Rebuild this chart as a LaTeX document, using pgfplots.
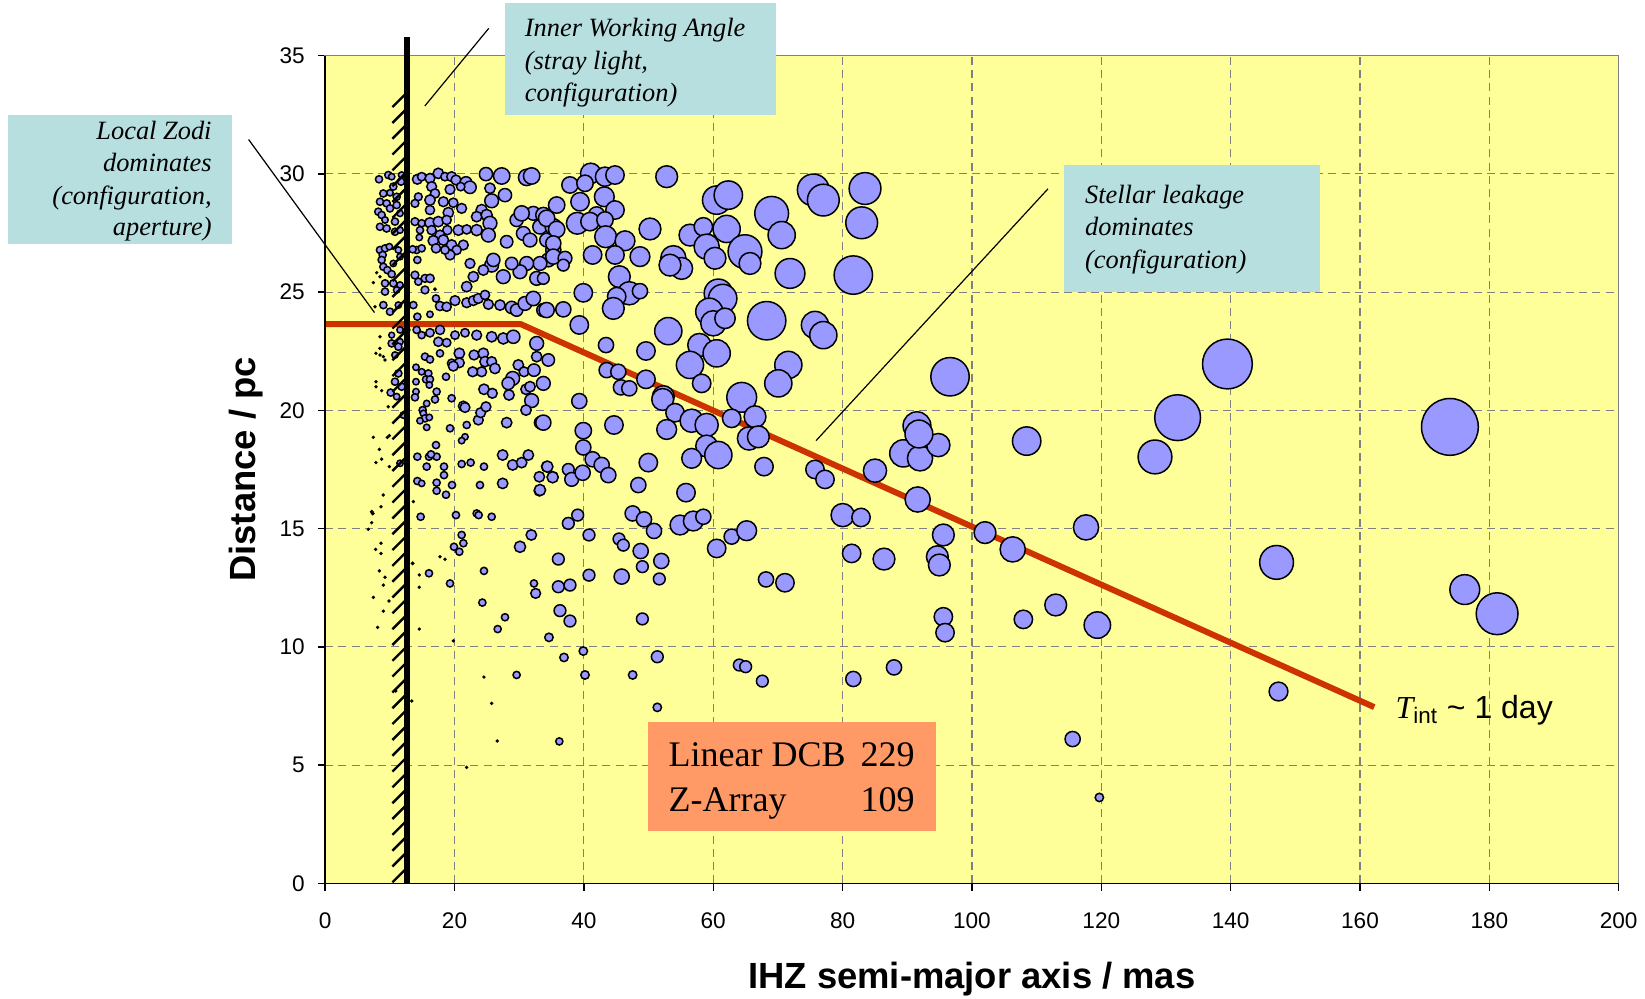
\documentclass[border=0pt]{standalone}
\usepackage{fontspec}
\setmainfont{Liberation Sans}
\newfontfamily\tnr{Liberation Serif}
\usepackage{pgfplots}
\pgfplotsset{compat=1.18}
\usepackage{pgfplotstable}
\definecolor{plotbg}{RGB}{255,255,153}
\definecolor{bubble}{RGB}{153,153,255}
\definecolor{redline}{RGB}{204,51,0}
\definecolor{boxcyan}{RGB}{184,223,224}
\definecolor{boxorange}{RGB}{255,153,102}
\pgfplotstableread{
x y r
8.32 29.77 2.7
9.76 29.95 2.7
10.28 29.88 2.3
10.53 29.46 2.7
8.99 29.17 2.7
10.02 29.20 2.3
11.05 29.03 2.7
11.72 29.67 2.7
11.82 29.95 2.3
14.25 29.77 4
14.92 29.88 3.3
16.20 29.81 4
17.49 30.02 4.3
16.46 29.46 4
16.98 29.17 3.7
18.52 29.88 3.3
19.55 29.88 4
20.22 29.74 4
21.77 29.63 5
22.39 29.43 5.3
19.30 29.34 4
20.95 29.46 3.3
24.86 29.99 5.7
27.29 29.91 7.3
31.15 29.85 7.3
31.92 29.91 7.3
25.48 29.39 4.3
27.80 29.10 5.7
25.74 28.86 6
24.19 28.47 4.7
23.42 28.19 4.3
24.97 28.26 4.7
16.20 28.89 4.3
18.27 28.82 4
19.81 28.78 3.7
21.10 28.54 4
19.04 28.36 4.3
16.20 28.47 3.7
14.40 29.03 3
13.88 28.75 3
8.47 28.82 2.7
9.50 28.75 2.7
10.02 28.54 2.7
11.05 28.68 2.7
8.21 28.40 2.7
8.73 28.26 2.7
9.25 28.05 2.3
10.79 27.98 2.7
11.57 28.33 2.3
8.47 27.76 2.7
9.50 27.69 2.7
10.79 27.55 2.7
11.57 27.62 2.3
13.88 27.98 3
14.92 27.91 2.7
16.20 27.93 4.3
17.49 27.98 4.3
18.78 28.05 3.7
20.59 27.62 4.3
21.88 27.65 3.7
18.88 27.62 3.7
17.75 27.41 4
16.46 27.62 3.7
14.66 27.62 2.7
14.55 27.31 2.3
16.72 27.17 4.3
18.27 27.20 4.3
19.55 26.99 4.3
21.36 26.99 4
20.33 26.78 3.7
19.30 26.57 4
17.13 26.85 3.7
18.52 26.78 3.3
25.48 27.91 6
23.42 27.62 4.7
25.23 27.41 6
28.06 27.13 5.3
29.60 28.05 5.7
30.64 27.48 6
32.18 28.33 6
33.73 28.26 6.7
30.38 28.33 6.7
33.21 27.76 6.3
31.67 27.20 6
34.24 27.20 6
35.27 27.76 7.3
35.27 26.78 6.7
34.50 26.36 6
33.21 26.21 6
31.15 26.21 6
30.12 25.86 6
27.54 25.65 6
25.74 26.14 6
24.45 25.93 4.3
22.91 25.65 4.3
21.88 25.23 4.3
22.39 26.21 4
26.00 26.36 5.7
28.83 26.21 5.3
32.70 25.58 6
14.14 26.78 2.7
14.92 26.85 2.7
13.52 26.81 2.7
8.47 26.78 2.7
9.25 26.85 2.7
9.92 26.92 2.3
8.89 26.57 2.7
8.73 26.36 2.7
10.53 26.21 2.3
8.99 26.07 2.7
9.61 25.93 2.7
10.28 25.76 2.7
11.31 26.78 2.3
11.57 26.50 2.3
14.25 26.36 2.7
13.88 25.72 3
14.40 25.44 2.7
15.43 25.58 3
16.20 25.58 3.3
15.43 25.09 3
16.98 25.12 1.3
9.25 25.37 2.7
10.53 25.37 2.7
11.57 25.30 2.3
9.25 25.02 2.7
11.05 25.09 2.3
7.44 25.40 1
8.47 25.65 1
7.96 25.82 1
8.99 24.45 2.7
10.02 24.17 2.7
7.70 24.38 1
11.31 24.45 2.3
13.63 24.45 2.7
14.25 23.96 2.7
16.20 24.06 2.3
17.13 24.73 2.7
17.75 24.41 3.7
18.78 24.38 3.7
20.07 24.64 4
21.88 24.55 4
22.91 24.64 4
23.68 24.73 4
24.71 24.88 3.7
25.23 24.48 4
27.03 24.45 4.3
28.83 24.35 5.3
29.60 24.24 5.3
30.89 24.52 6
32.18 24.73 6.3
33.73 24.24 5.7
11.57 23.40 2.3
10.28 23.18 2
8.47 23.11 1
8.47 22.62 1
14.14 23.40 2.7
14.92 23.18 2.7
16.20 23.28 3.3
17.75 23.40 3.7
17.49 22.90 3.7
18.78 22.86 3.3
20.07 23.18 3.3
21.62 23.28 3.3
23.42 23.18 4
25.74 23.11 4.3
27.54 23.04 4.7
29.09 23.11 5.7
32.70 22.83 6
12.60 23.40 2.3
10.28 22.83 2.7
11.57 22.90 2.3
11.31 22.69 2.7
7.85 22.41 1
8.47 22.34 1
8.99 22.27 1
9.25 22.13 1
10.79 22.34 2.3
14.04 21.82 2.3
14.92 21.63 2.3
15.95 21.56 2.7
15.59 21.31 2.7
16.20 21.31 2.7
16.10 21.07 2.3
17.23 20.79 2.7
16.98 20.46 2.7
15.69 20.29 2.3
14.04 21.21 2.3
14.04 20.79 2.3
13.88 20.55 2.7
15.43 22.27 2.7
16.20 22.15 2.7
17.75 22.41 2.7
11.31 21.56 2.7
10.79 21.21 2.7
11.82 21.00 2.7
10.12 20.75 2.7
11.05 20.58 2.3
7.85 21.21 1
8.73 20.83 1
7.85 21.00 1
9.76 20.15 1
12.08 19.80 2.3
15.07 20.01 2.7
15.17 19.87 2.3
15.43 19.66 2.7
16.10 19.70 2.3
14.66 19.56 2.3
15.69 19.28 2.3
18.68 21.42 2.7
19.55 21.99 3.3
19.55 20.51 2.7
19.30 19.24 2.7
21.36 20.18 4
21.62 20.12 4
21.88 19.38 2.7
21.62 18.88 2.3
21.10 18.72 2.3
20.74 22.41 4.3
20.74 22.01 4
19.81 21.87 4
23.01 22.34 4
24.45 22.41 4.3
24.71 22.06 4.3
25.74 22.06 4
26.25 21.77 4.3
24.19 21.63 4
22.80 21.63 4
24.55 20.89 4.3
25.84 20.72 4
23.68 19.59 4
24.04 19.90 4
24.86 20.15 4
28.99 21.35 6
28.30 21.14 5.3
29.86 21.92 4.3
30.74 21.63 4
28.42 20.65 4.3
31.05 20.89 4.3
31.67 21.00 4.3
31.92 20.41 6
31.05 20.01 4.3
32.28 21.70 5.3
33.73 21.14 6
34.50 22.13 5.3
32.70 22.27 4.3
28.06 19.48 4.3
33.31 19.48 5.3
17.13 18.53 2.7
14.25 18.04 2.7
16.05 18.04 2.7
17.23 18.04 2.7
16.36 18.14 2.7
15.69 17.62 2.7
18.37 17.62 2.7
18.37 17.26 2.7
14.25 17.01 2.7
14.92 16.91 2.3
17.23 16.94 2.7
17.23 16.60 2.7
18.68 16.43 2.7
19.61 16.84 2.7
7.44 18.86 1
8.37 18.35 1
8.73 17.94 1
7.85 17.79 1
9.92 17.62 1
8.99 16.42 1
8.63 15.92 1
7.19 15.71 1.3
7.34 15.64 1.3
7.19 15.25 1
6.67 14.97 1
9.61 18.86 1
9.92 18.93 1
11.57 17.76 2.3
13.63 16.14 1
14.76 15.50 2.7
20.22 15.57 2.7
21.10 17.73 2.7
22.49 17.79 2.7
24.55 17.62 2.7
23.93 16.84 2.7
25.74 15.50 2.7
23.42 15.64 2.7
23.73 15.57 2.7
27.44 18.11 4.3
28.99 17.69 4.3
30.38 17.79 4.3
31.41 18.11 4.3
27.44 16.91 4.3
33.11 17.19 4.3
34.24 17.62 4.3
35.17 17.19 4.3
33.11 16.60 4.3
31.87 14.73 4.3
21.10 14.73 2.7
21.36 14.38 2.7
19.91 14.23 2.7
20.74 14.02 2.7
30.12 14.23 4.7
17.75 13.81 1
18.52 13.70 1
13.52 13.53 1.3
16.05 13.11 2.7
14.55 13.04 1
14.55 12.52 1
19.30 12.68 2.7
24.55 13.21 2.7
32.28 12.68 2.7
32.54 12.26 4
24.30 11.87 2.7
27.80 11.25 2.7
26.67 10.75 2.7
7.80 14.12 1
8.63 14.38 1
8.63 13.95 1
8.37 13.21 1
9.25 12.94 1
8.99 12.61 1
7.44 12.09 1
9.86 11.94 1
8.99 11.51 1
8.11 10.82 1
14.55 10.75 1
19.81 10.25 1
24.55 8.72 1
29.60 8.81 2.7
25.74 7.61 1
26.61 6.02 1
21.87 4.90 1
13.37 7.71 1
10.90 8.13 1
36.20 6.00 2.7
41.05 30.02 9.3
43.26 29.88 8.7
44.81 29.95 8.3
37.85 29.53 7.3
40.17 29.60 7.3
39.40 28.82 8.3
43.16 29.03 9
44.81 28.47 8.3
41.97 28.26 7.3
38.98 27.91 10
40.94 27.98 8.3
43.26 28.05 7.3
35.79 28.68 7.3
34.24 28.12 7.3
35.79 27.65 7.3
35.27 27.06 6.7
35.27 26.50 6.7
37.08 26.43 6
36.82 26.14 5
33.73 25.58 5
43.36 27.34 10
46.36 27.17 9
41.35 26.57 8.3
44.81 26.57 8.3
48.67 26.50 9
50.22 27.67 10
52.80 29.88 10
45.48 25.65 10
47.02 24.95 10.7
48.67 25.04 6.7
45.07 24.81 8.3
44.55 24.31 10
39.91 24.97 8.3
36.82 24.27 6.7
39.29 23.61 8.3
34.24 24.24 6.7
43.42 22.76 6.7
49.60 22.51 8.3
53.05 23.35 12.7
60.53 28.89 13.3
62.33 29.10 13.3
56.40 27.41 10
58.47 27.76 8.3
62.07 27.67 12.7
58.98 26.92 11.7
60.27 26.43 10
64.91 26.71 16
65.68 26.21 10
69.03 28.33 16
70.58 27.41 12.7
75.47 29.32 15
77.02 28.89 15
71.87 25.79 14
53.83 26.43 11.7
55.12 26.00 10
53.31 26.14 10
60.79 24.95 13.3
61.46 24.73 13.3
59.39 24.17 12.7
60.01 23.68 11.7
61.82 23.89 9.3
68.26 23.79 18.3
75.73 23.61 12.7
77.02 23.18 12.7
57.85 22.76 10.7
56.40 21.92 12.7
60.53 22.41 12.7
58.21 21.14 8.3
71.61 21.92 12.7
70.06 21.14 12.7
64.40 20.55 14
43.52 21.70 6.7
45.32 21.63 6.7
45.73 20.97 6.7
47.02 20.93 6.7
49.60 21.31 8.3
52.28 20.58 10
39.29 20.39 6.7
33.73 19.48 6.7
39.91 19.14 7.3
44.65 19.38 8.3
39.91 18.43 6.7
41.35 17.93 6.7
42.75 17.69 6.7
43.78 17.26 6.7
34.35 17.62 4.7
35.17 17.17 4.7
37.59 17.50 5
38.11 17.08 6
39.81 17.36 6.7
33.21 16.63 4.7
49.96 17.79 8.3
48.42 16.84 6.7
55.79 16.52 8.3
47.54 15.64 6.7
49.29 15.39 6.7
50.84 14.90 6.7
54.86 15.15 9
56.92 15.32 9
58.47 15.50 6.7
39.04 15.57 5
37.59 15.22 5
40.79 14.73 5
45.43 14.56 5
46.10 14.30 5
48.78 14.05 6.7
49.04 13.39 5
51.97 13.63 6.7
51.66 12.87 5
45.84 12.97 6.7
40.79 13.03 5
36.05 13.71 5
36.05 12.54 5
37.85 12.61 5
36.30 11.53 5
37.85 11.09 5
49.04 11.18 5
34.60 10.40 3.3
36.92 9.55 3.3
39.91 9.82 3.3
40.17 8.81 3.3
47.54 8.81 3.3
51.35 9.58 5
51.35 7.44 3.3
60.53 14.16 8.3
62.85 14.66 6.7
65.17 14.91 9
68.16 12.85 6.7
71.09 12.71 8.3
64.03 9.23 5
65.01 9.16 5
67.59 8.55 5
52.18 20.46 10
54.09 19.90 8.3
56.66 19.56 10.7
58.98 19.38 10.7
52.80 19.19 9
58.98 18.49 10
60.79 18.11 12.7
56.66 17.97 9
62.85 19.66 8.3
66.46 19.73 10
65.53 18.81 10.7
66.97 18.88 10
67.85 17.62 8.3
75.73 17.50 8.3
77.28 17.08 8.3
83.47 29.38 15
82.95 27.93 15
81.66 25.72 18.3
96.61 21.42 18.3
108.46 18.70 13.3
85.01 17.45 10.7
89.39 18.18 12.7
91.97 17.97 11.7
94.80 18.53 10.7
91.50 19.35 13
91.80 19.00 13
91.61 16.23 11.7
80.01 15.57 10.7
82.85 15.47 8.3
81.40 13.95 8.3
86.40 13.71 10
95.58 14.73 10
94.65 13.81 10
94.96 13.46 10
95.58 11.27 8.3
95.84 10.60 8.3
102.02 14.83 10
106.30 14.12 11.7
117.64 15.05 11.7
107.95 11.16 8.3
112.95 11.77 10
119.39 10.92 12.3
128.30 18.03 16
81.66 8.64 6.7
87.95 9.13 6.7
115.57 6.10 6.7
119.70 3.63 3.3
173.90 19.30 27.5
139.50 21.96 24
131.80 19.69 22
147.10 13.57 16
147.40 8.11 8.5
176.20 12.42 14
181.20 11.40 20
}\bubbles
\begin{document}
\begin{tikzpicture}
\path[use as bounding box] (-162.6pt,-57.35pt) rectangle (659.9pt,441.65pt);
\begin{axis}[
  at={(0,0)}, anchor=south west,
  scale only axis, width=646.75pt, height=413.85pt,
  xmin=0, xmax=200, ymin=0, ymax=35,
  xtick={0,20,...,200}, ytick={0,5,...,35},
  axis background/.style={fill=plotbg},
  axis line style={draw=gray, line width=0.7pt},
  grid=major,
  grid style={dash pattern=on 4pt off 2.6pt, gray, line width=0.55pt},
  tick align=outside, tick pos=left, major tick length=3.7pt,
  tick style={black, line width=0.7pt},
  clip=false,
  ticklabel style={font=\fontsize{11.3}{13}\selectfont},
  /pgf/number format/assume math mode=true,
  xticklabel style={inner sep=0pt, anchor=north, yshift=-10.8pt},
  yticklabel style={inner sep=0pt, anchor=east, xshift=-6.3pt},
  xlabel={IHZ semi-major axis / mas}, ylabel={Distance / pc},
  every axis x label/.style={at={(axis description cs:0.5,-0.1156)}, anchor=center, font=\bfseries\fontsize{18.2}{22}\selectfont},
  every axis y label/.style={at={(axis description cs:-0.0608,0.5)}, anchor=center, rotate=90, font=\bfseries\fontsize{18.2}{22}\selectfont},
]
\addplot[scatter, only marks, mark=*,
  scatter/use mapped color={draw=black, fill=bubble},
  visualization depends on={\thisrow{r} \as \rr},
  scatter/@pre marker code/.append style={/tikz/mark size={0.5*\rr+ifthenelse(\rr>1.5,0.45,-0.1)}},
  mark options={line width=0.75pt},
] table[x=x,y=y] {\bubbles};
\addplot[redline, line width=3pt, no marks] coordinates {(0,23.65) (30.2,23.65) (162.2,7.45)};
\end{axis}
\draw[line width=0.7pt] (0,413.85pt) -- (0,0) -- (646.75pt,0);
\foreach \k in {0,...,49} \draw[line width=1.2pt] (33.6pt,{\k*7.91pt+0.5pt}) -- ++(7.4pt,7.4pt);
\draw[line width=3.2pt] (40.91pt,0) -- (40.91pt,423.3pt);
% annotation boxes
\fill[boxcyan] (89.7pt,440.1pt) rectangle (225.55pt,383.95pt);
\fill[boxcyan] (-158.4pt,383.95pt) rectangle (-46.7pt,319.45pt);
\fill[boxcyan] (369.25pt,359.3pt) rectangle (497.2pt,295.85pt);
\fill[boxorange] (161.55pt,80.8pt) rectangle (305.25pt,26.3pt);
\begin{scope}[every node/.style={inner sep=0pt, font=\tnr\itshape\fontsize{13.2}{16}\selectfont}]
\node[anchor=base west] at (99.65pt,423.3pt) {Inner Working Angle};
\node[anchor=base west] at (99.65pt,407.05pt) {(stray light,};
\node[anchor=base west] at (99.65pt,390.75pt) {configuration)};
\node[anchor=base east] at (-56.6pt,371.9pt) {Local Zodi};
\node[anchor=base east] at (-56.6pt,355.65pt) {dominates};
\node[anchor=base east] at (-56.6pt,339.35pt) {(configuration,};
\node[anchor=base east] at (-56.6pt,323.65pt) {aperture)};
\node[anchor=base west] at (379.75pt,339.9pt) {Stellar leakage};
\node[anchor=base west] at (379.75pt,323.65pt) {dominates};
\node[anchor=base west] at (379.75pt,307.35pt) {(configuration)};
\end{scope}
\draw[line width=0.6pt] (81.8pt,427.5pt) -- (49.8pt,388.65pt);
\draw[line width=0.6pt] (-38.3pt,371.9pt) -- (24.65pt,285.35pt);
\draw[line width=0.6pt] (361.4pt,347.25pt) -- (245.45pt,221.35pt);
\begin{scope}[every node/.style={inner sep=0pt, font=\tnr\fontsize{18}{22}\selectfont}]
\node[anchor=base west] at (171.55pt,58.3pt) {Linear DCB};
\node[anchor=base east] at (294.9pt,58.3pt) {229};
\node[anchor=base west] at (171.55pt,35.8pt) {Z-Array};
\node[anchor=base east] at (294.9pt,35.8pt) {109};
\end{scope}
\node[anchor=base west, inner sep=0pt, font=\fontsize{16}{19}\selectfont] at (535pt,82.35pt) {{\tnr\itshape T}\textsubscript{int} \textasciitilde\ 1 day};
\end{tikzpicture}
\end{document}
